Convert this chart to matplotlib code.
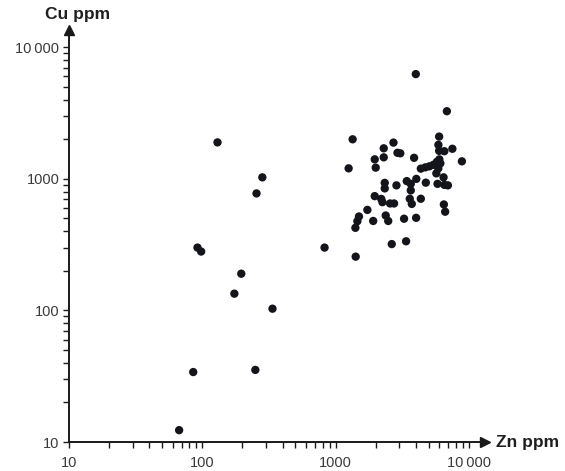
import matplotlib
matplotlib.use("Agg")
import matplotlib.pyplot as plt
from matplotlib.ticker import FixedLocator, LogLocator, NullFormatter

plt.rcParams['font.family'] = ['Liberation Sans', 'DejaVu Sans']

# Zn (x) and Cu (y) concentrations in ppm
zn_ppm = [67, 85.5, 92, 98, 130, 196, 174, 250, 255, 282, 336, 826,
          3995, 6833, 1342, 5977, 2716, 2296, 5900, 7516, 5977, 6540,
          2910, 3055, 1965, 2296, 3878, 8858, 1252, 1999,
          4357, 4708, 5047, 5408, 5745, 6000, 6105, 5896, 5695,
          6452, 3418, 4030, 2336, 2336, 2860, 3663, 3663, 4750,
          5814, 6543, 6953, 1965, 2199, 2245, 2561, 2744, 3600, 3727,
          4357, 6486, 6634, 1731, 1497, 1456, 1407, 1914, 2376, 2481,
          3262, 4016, 2637, 3377, 1414]
cu_ppm = [12.3, 34, 300, 280, 1890, 190, 134, 35.3, 774, 1025, 103, 300,
          6240, 3260, 1995, 2092, 1883, 1704, 1810, 1690, 1630, 1620,
          1575, 1561, 1405, 1455, 1443, 1357, 1200, 1215,
          1194, 1221, 1243, 1276, 1345, 1405, 1310, 1200, 1099,
          1025, 960, 998, 931, 845, 891, 915, 816, 934,
          915, 899, 891, 738, 703, 664, 649, 649, 705, 644,
          705, 638, 562, 580, 517, 476, 424, 478, 526, 478,
          497, 505, 319, 335, 256]

x_ticks = [10, 100, 1000, 10000]
x_tick_labels = ["10", "100", "1000", "10\u2009000"]
y_ticks = [10, 100, 1000, 10000]
y_tick_labels = ["10", "100", "1000", "10\u2009000"]
x_label = "Zn ppm"
y_label = "Cu ppm"

W, H = 565, 471
fig = plt.figure(figsize=(W / 100, H / 100), dpi=100)
x0, x1, y0, y1 = 69, 485, 442, 30
ax = fig.add_axes([x0 / W, 1 - y0 / H, (x1 - x0) / W, (y0 - y1) / H])
ax.set_xscale('log')
ax.set_yscale('log')
ax.set_xlim(10, 13200)
ax.set_ylim(10, 13500)

ax.scatter(zn_ppm, cu_ppm, s=36, color='#14151b', edgecolors='none', zorder=3)

for side in ('top', 'right'):
    ax.spines[side].set_visible(False)
for side in ('left', 'bottom'):
    ax.spines[side].set_linewidth(1.4)
    ax.spines[side].set_color('#1a1a1a')

ax.xaxis.set_major_locator(FixedLocator(x_ticks))
ax.yaxis.set_major_locator(FixedLocator(y_ticks))
ax.set_xticklabels(x_tick_labels)
ax.set_yticklabels(y_tick_labels)
ax.xaxis.set_minor_locator(LogLocator(base=10, subs=range(2, 10)))
ax.yaxis.set_minor_locator(LogLocator(base=10, subs=range(2, 10)))
ax.xaxis.set_minor_formatter(NullFormatter())
ax.yaxis.set_minor_formatter(NullFormatter())
ax.tick_params(which='both', direction='out', length=4, width=1.0, color='#1a1a1a')
ax.tick_params(which='major', labelsize=10.5, labelcolor='#3a3a3a')
ax.tick_params(axis='x', which='major', pad=6)
ax.tick_params(axis='y', which='major', pad=3)

# arrow heads
ax.plot([1], [0], marker='>', ms=7, color='#1a1a1a', transform=ax.transAxes, clip_on=False)
ax.plot([0], [1], marker='^', ms=7, color='#1a1a1a', transform=ax.transAxes, clip_on=False)

fig.text(78 / W, 1 - 15 / H, y_label, ha='center', va='center', fontsize=12.5,
         fontweight='bold', color='#1f1f1f')
fig.text(496 / W, 1 - 442 / H, x_label, ha='left', va='center', fontsize=12.5,
         fontweight='bold', color='#1f1f1f')

fig.savefig('out.png', dpi=100)
